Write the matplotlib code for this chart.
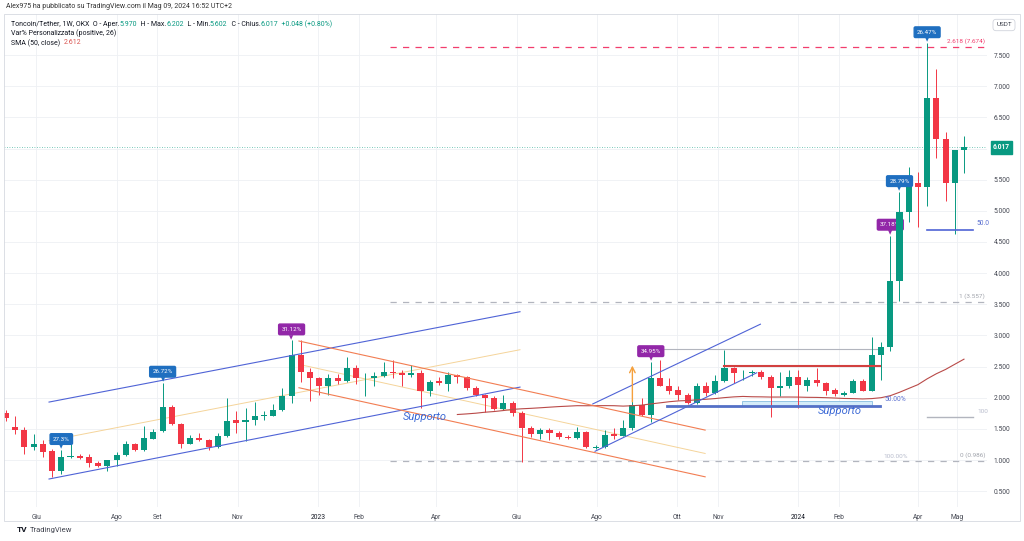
import numpy as np
import pandas as pd
import matplotlib
matplotlib.use("Agg")
import matplotlib.pyplot as plt
import matplotlib.dates as mdates
from matplotlib.patches import Rectangle

plt.rcParams['font.family'] = ['Roboto', 'DejaVu Sans']

# weekly OHLC, TON/USDT
open_ = [1.76, 1.53, 1.48, 1.21, 1.26, 1.15, 0.82, 1.05, 1.06, 1.05,
         0.95, 0.90, 1.00, 1.08, 1.26, 1.16, 1.34, 1.47, 1.85, 1.58,
         1.26, 1.35, 1.32, 1.21, 1.39, 1.65, 1.61, 1.64, 1.71, 1.71,
         1.81, 2.03, 2.68, 2.42, 2.32, 2.18, 2.32, 2.27, 2.47, 2.31,
         2.32, 2.35, 2.42, 2.40, 2.36, 2.40, 2.11, 2.27, 2.22, 2.37,
         2.34, 2.15, 2.05, 2.00, 1.82, 1.92, 1.76, 1.52, 1.42, 1.48,
         1.44, 1.37, 1.35, 1.45, 1.20, 1.21, 1.42, 1.39, 1.52, 1.89,
         1.73, 2.32, 2.19, 2.13, 2.05, 1.92, 2.19, 2.08, 2.27, 2.48,
         2.39, 2.40, 2.42, 2.34, 2.16, 2.19, 2.34, 2.19, 2.29, 2.23,
         2.13, 2.05, 2.08, 2.27, 2.11, 2.68, 2.82, 3.87, 4.98, 5.44,
         5.39, 6.81, 6.15, 5.45, 5.970]
high = [1.80, 1.71, 1.53, 1.42, 1.32, 1.17, 1.16, 1.43, 1.10, 1.10,
        0.99, 1.00, 1.13, 1.30, 1.28, 1.55, 1.50, 2.24, 1.88, 1.60,
        1.40, 1.43, 1.34, 1.43, 2.00, 1.79, 1.83, 1.93, 1.78, 1.90,
        2.16, 2.92, 2.92, 2.48, 2.34, 2.38, 2.38, 2.65, 2.52, 2.40,
        2.41, 2.58, 2.61, 2.45, 2.53, 2.45, 2.29, 2.34, 2.42, 2.38,
        2.35, 2.18, 2.06, 2.03, 2.05, 1.94, 1.78, 1.54, 1.52, 1.51,
        1.46, 1.40, 1.53, 1.46, 1.24, 1.48, 1.51, 1.64, 1.95, 2.00,
        2.57, 2.60, 2.32, 2.18, 2.07, 2.24, 2.26, 2.37, 2.77, 2.50,
        2.45, 2.45, 2.45, 2.36, 2.42, 2.45, 2.45, 2.34, 2.47, 2.25,
        2.15, 2.10, 2.30, 2.30, 2.97, 2.90, 4.60, 5.30, 5.71, 5.63,
        7.69, 7.27, 6.27, 5.98, 6.202]
low = [1.62, 1.42, 1.10, 1.16, 1.05, 0.73, 0.78, 1.03, 1.01, 0.89,
       0.89, 0.82, 0.90, 1.07, 1.14, 1.15, 1.33, 1.45, 1.56, 1.20,
       1.25, 1.30, 1.16, 1.19, 1.37, 1.44, 1.31, 1.56, 1.64, 1.70,
       1.79, 1.92, 2.26, 1.95, 2.05, 2.05, 2.22, 2.26, 2.22, 2.02,
       2.19, 2.34, 2.31, 2.18, 2.34, 1.84, 2.02, 2.20, 2.11, 2.24,
       2.13, 2.03, 1.77, 1.80, 1.80, 1.71, 0.97, 1.37, 1.34, 1.32,
       1.33, 1.33, 1.34, 1.19, 1.18, 1.20, 1.33, 1.38, 1.48, 1.70,
       1.61, 2.18, 2.06, 1.97, 1.90, 1.90, 2.03, 2.06, 2.26, 2.23,
       2.29, 2.35, 2.30, 1.69, 2.03, 2.16, 1.84, 2.11, 2.18, 2.05,
       2.03, 2.03, 2.07, 2.10, 2.10, 2.29, 2.75, 3.55, 4.82, 4.74,
       5.08, 5.85, 5.15, 4.63, 5.602]
close = [1.67, 1.48, 1.21, 1.26, 1.13, 0.82, 1.05, 1.06, 1.04, 0.95,
         0.90, 1.00, 1.08, 1.26, 1.16, 1.35, 1.45, 1.85, 1.58, 1.26,
         1.35, 1.32, 1.21, 1.39, 1.63, 1.60, 1.64, 1.71, 1.72, 1.81,
         2.03, 2.68, 2.42, 2.32, 2.18, 2.32, 2.27, 2.47, 2.31, 2.32,
         2.35, 2.42, 2.40, 2.37, 2.39, 2.11, 2.26, 2.24, 2.37, 2.34,
         2.15, 2.05, 2.00, 1.82, 1.92, 1.76, 1.52, 1.42, 1.48, 1.44,
         1.37, 1.35, 1.45, 1.21, 1.21, 1.40, 1.39, 1.52, 1.89, 1.73,
         2.32, 2.19, 2.11, 2.05, 1.92, 2.19, 2.08, 2.27, 2.48, 2.39,
         2.40, 2.42, 2.34, 2.16, 2.19, 2.34, 2.21, 2.29, 2.23, 2.11,
         2.06, 2.08, 2.27, 2.11, 2.68, 2.82, 3.87, 4.98, 5.44, 5.39,
         6.81, 6.15, 5.45, 5.969, 6.017]
first_week = "2022-05-09"

tick_dates = ["2022-06-01", "2022-08-01", "2022-09-01", "2022-11-01", "2023-01-01",
              "2023-02-01", "2023-04-01", "2023-06-01", "2023-08-01", "2023-10-01",
              "2023-11-01", "2024-01-01", "2024-02-01", "2024-04-01", "2024-05-01"]
tick_names = ["Giu", "Ago", "Set", "Nov", "2023", "Feb", "Apr", "Giu", "Ago", "Ott",
              "Nov", "2024", "Feb", "Apr", "Mag"]
price_ticks = np.arange(0.5, 7.51, 0.5)

# % labels on swing highs (candle index, text, colour)
pct_idx = [6, 17, 31, 70, 96, 97, 100]
pct_text = ["27.3%", "26.72%", "31.12%", "34.95%", "37.18%", "28.79%", "26.47%"]
pct_col = ["#1f6fc0", "#1f6fc0", "#9227a8", "#9227a8", "#9227a8", "#1f6fc0", "#1f6fc0"]

# drawings: (week index, price) end points
blue_ch1 = [[(4.67, 1.93), (55.8, 3.38)], [(4.67, 0.695), (55.8, 2.17)]]
blue_ch1_mid = [(4.67, 1.31), (55.8, 2.77)]
orange_ch = [[(31.8, 2.91), (75.9, 1.48)], [(31.8, 2.16), (75.9, 0.73)]]
orange_ch_mid = [(31.8, 2.535), (75.9, 1.105)]
blue_ch2 = [[(63.7, 1.90), (81.9, 3.18)], [(63.95, 1.14), (81.5, 2.40)]]
resistance = [(77.9, 2.51), (94.9, 2.51)]
support = [(71.8, 1.867), (94.9, 1.867)]
support_zone = (79.9, 94.0, 1.867, 1.947)
swing_line = [(71.0, 2.78), (94.9, 2.78)]
fib_start = 41.7
fib_levels = [7.63, 3.54, 0.99]
fib_labels = ["2.618 (7.674)", "1 (3.557)", "0 (0.986)"]
range_short = [[(100.0, 4.69), (105.0, 4.69)], [(100.0, 1.69), (105.0, 1.69)]]
arrow_up = (68, 1.89, 2.56)

GREEN = "#089981"
RED = "#f23645"
DARK = "#131722"

dates = pd.date_range(first_week, periods=len(close), freq="7D")
x = mdates.date2num(dates)
o = np.array(open_); h = np.array(high); l = np.array(low); c = np.array(close)


def at(i):
    return x[0] + i * 7.0


fig = plt.figure(figsize=(10.24, 5.41), dpi=100)
ax = fig.add_axes([4 / 1024, 1 - 507 / 541, (987 - 4) / 1024, (507 - 14) / 541])
ax.set_xlim(at(-0.22), at(106.5))
ax.set_ylim(0.2456, 8.159)

for s in ax.spines.values():
    s.set_visible(False)
ax.set_xticks(mdates.date2num(pd.to_datetime(tick_dates)))
ax.set_xticklabels(tick_names)
ax.yaxis.tick_right()
ax.set_yticks(price_ticks)
# the 6.000 label sits under the last-price box
ax.set_yticklabels(["" if abs(v - c[-1]) < 0.15 else f"{v:.3f}" for v in price_ticks])
ax.tick_params(axis='both', length=0, labelsize=4.8, colors="#434651")
ax.tick_params(axis='x', pad=5)
ax.tick_params(axis='y', pad=5)
for lab in ax.get_xticklabels():
    if lab.get_text() in ("2023", "2024"):
        lab.set_color(DARK)
ax.grid(True, color="#eef0f4", lw=0.6, zorder=0)
ax.set_axisbelow(True)

# candles
up = c >= o
cols = np.where(up, GREEN, RED)
ax.vlines(x, l, h, colors=cols, lw=0.7, zorder=3)
ax.bar(x, np.maximum(np.abs(c - o), 0.014), bottom=np.minimum(o, c), width=4.6,
       color=cols, linewidth=0, zorder=3.1)

# SMA 50
sma = pd.Series(c).rolling(50).mean()
ax.plot(x, sma, color="#b94a48", lw=0.8, zorder=4)


def seg(pts, **kw):
    ax.plot([at(pts[0][0]), at(pts[1][0])], [pts[0][1], pts[1][1]], **kw)


for s_ in blue_ch1:
    seg(s_, color="#4f63d6", lw=0.8, zorder=5)
seg(blue_ch1_mid, color="#f5d49a", lw=0.7, zorder=2)
for s_ in orange_ch:
    seg(s_, color="#f27d52", lw=0.8, zorder=5)
seg(orange_ch_mid, color="#f5d49a", lw=0.7, zorder=2)
for s_ in blue_ch2:
    seg(s_, color="#4f63d6", lw=0.8, zorder=5)
seg(swing_line, color="#b2b5be", lw=0.8, zorder=2)
seg(resistance, color="#d2403f", lw=1.5, zorder=5)
seg(support, color="#5470c6", lw=2.0, zorder=5)
ax.add_patch(Rectangle((at(support_zone[0]), support_zone[2]),
                       at(support_zone[1]) - at(support_zone[0]),
                       support_zone[3] - support_zone[2],
                       fc="#d4ecf9", ec="#86bde0", lw=0.6, zorder=2.5))
seg(range_short[0], color="#4f63d6", lw=1.2, zorder=5)
seg(range_short[1], color="#b2b5be", lw=1.0, zorder=5)

# fib levels
for lev, lab in zip(fib_levels, fib_labels):
    col = "#f23d6d" if lev > 5 else "#b2b5be"
    ax.plot([at(fib_start), at(106.5)], [lev, lev], color=col, lw=0.9,
            ls=(0, (5, 5)), zorder=2)
    ax.annotate(lab, (1.0, lev), xycoords=('axes fraction', 'data'),
                xytext=(-2, 3), textcoords='offset pixels', ha='right', va='bottom',
                fontsize=4.6, color=col if lev > 5 else "#a0a3ab")

ax.annotate("50.00%", (at(95.4), support[0][1]), xytext=(0, 3), textcoords='offset pixels',
            ha='left', va='bottom', fontsize=4.8, color="#5a6fd0", zorder=6)
ax.annotate("100.00%", (at(95.2), fib_levels[2]), xytext=(0, 2), textcoords='offset pixels',
            ha='left', va='bottom', fontsize=4.6, color="#b8bccc", zorder=6)
ax.annotate("50.0", (at(105.4), range_short[0][0][1]), xytext=(0, 3), textcoords='offset pixels',
            ha='left', va='bottom', fontsize=4.8, color="#5a6fd0", annotation_clip=False)
ax.annotate("100", (at(105.5), range_short[1][0][1]), xytext=(0, 3), textcoords='offset pixels',
            ha='left', va='bottom', fontsize=4.6, color="#b8bccc", annotation_clip=False)

# last price line
ax.axhline(c[-1], color=GREEN, lw=0.6, ls=(0, (1, 2)), alpha=0.7, zorder=2)
ax.annotate(f"{c[-1]:.3f}", (1.0, c[-1]), xycoords=('axes fraction', 'data'),
            xytext=(6, 0), textcoords='offset pixels', ha='left', va='center',
            fontsize=4.8, color="white", fontweight='bold', annotation_clip=False,
            bbox=dict(boxstyle='square,pad=0.35', fc=GREEN, ec=GREEN))

# orange arrow
ax.annotate("", (at(arrow_up[0]), arrow_up[2]), xytext=(at(arrow_up[0]), arrow_up[1]),
            arrowprops=dict(arrowstyle='->', color="#f5a03c", lw=1.0), zorder=6)

# Supporto text
ax.text(at(45.5), 1.69, "Supporto", fontsize=8, style='italic', color="#3e6bd6",
        ha='center', va='center', zorder=6)
ax.text(at(90.5), 1.79, "Supporto", fontsize=8, style='italic', color="#3e6bd6",
        ha='center', va='center', zorder=6)

# % labels
for i, t, col in zip(pct_idx, pct_text, pct_col):
    z = 2.9 if t == "37.18%" else 7
    ax.annotate(t, (x[i], h[i]), xytext=(0, 11), textcoords='offset pixels',
                ha='center', va='center', fontsize=4.5, color="white", zorder=z,
                bbox=dict(boxstyle='round,pad=0.45,rounding_size=0.2', fc=col, ec=col))
    ax.annotate("\u25bc", (x[i], h[i]), xytext=(0, 3), textcoords='offset pixels',
                ha='center', va='center', fontsize=4, color=col, zorder=z,
                family='DejaVu Sans')

# frame and header
fig.patches.append(Rectangle((4 / 1024, 1 - 521 / 541), 1016 / 1024, 507 / 541,
                             transform=fig.transFigure, fill=False, ec="#d6d9e0", lw=0.6))
fig.text(6 / 1024, 1 - 7 / 541, "Alex975 ha pubblicato su TradingView.com il Mag 09, 2024 16:52 UTC+2",
         fontsize=5, color="#333333", va='center')
fig.text(1004 / 1024, 1 - 25 / 541, "USDT", fontsize=4.6, color="#434651", ha='center', va='center',
         bbox=dict(boxstyle='round,pad=0.5', fc='white', ec="#d1d4dc", lw=0.6))

renderer = fig.canvas.get_renderer()


def colored_line(xp, yp, pieces, size=5):
    xf = xp / 1024
    for txt, col in pieces:
        t = fig.text(xf, 1 - yp / 541, txt, fontsize=size, color=col, va='center')
        xf += t.get_window_extent(renderer).width / fig.bbox.width


chg = c[-1] - c[-2]
colored_line(11, 24, [("Toncoin/Tether, 1W, OKX  O - Aper.", DARK), (f"{o[-1]:.3f}", GREEN),
                      ("  H - Max.", DARK), (f"{h[-1]:.3f}", GREEN),
                      ("  L - Min.", DARK), (f"{l[-1]:.3f}", GREEN),
                      ("  C - Chius.", DARK), (f"{c[-1]:.3f}", GREEN),
                      (f"  +{chg:.3f} (+{chg / c[-2] * 100:.2f}%)", GREEN)])
colored_line(11, 33, [("Var% Personalizzata (positive, 26)", DARK)])
colored_line(11, 43, [("SMA (50, close)  ", DARK), ("2.612", "#d9534f")])

fig.text(17 / 1024, 1 - 530 / 541, "TV", fontsize=6, fontweight='bold', color="#131722", va='center')
fig.text(30 / 1024, 1 - 530 / 541, "TradingView", fontsize=5.5, color="#434651", va='center')

fig.savefig("out.png", dpi=100)
